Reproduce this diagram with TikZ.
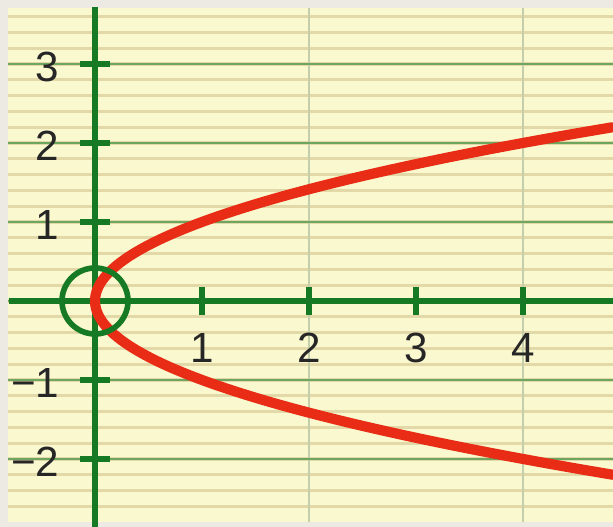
\documentclass[tikz,border=0pt]{standalone}
\usepackage{fontspec}
\setmainfont{Liberation Sans}
\definecolor{paper}{RGB}{250,248,206}
\definecolor{frame}{RGB}{236,234,226}
\definecolor{minorline}{RGB}{226,216,168}
\definecolor{majorline}{RGB}{110,165,95}
\definecolor{vline}{RGB}{196,206,170}
\definecolor{axisgreen}{RGB}{22,122,36}
\definecolor{curvered}{RGB}{232,44,22}
\begin{document}
\begin{tikzpicture}[
    x=1.07cm, y=0.79cm,
    minor/.style={minorline, line width=0.9pt},
    major/.style={majorline, line width=0.8pt},
    axis/.style={axisgreen, line width=1.8pt},
    tick/.style={axisgreen, line width=1.8pt},
    curve/.style={curvered, line width=2.9pt, line cap=round},
    ticklabel/.style={font=\fontsize{12}{14}\selectfont, text=black!85, inner sep=0pt}
]

% Paper
\fill[frame] (-0.8879,-2.8608) rectangle (4.8411,3.8101);
\useasboundingbox (-0.8879,-2.8608) rectangle (4.8411,3.8101);
\fill[paper] (-0.813,-2.797) rectangle (4.8411,3.709);

% Grid
\foreach \k in {-13,...,18} {
  \draw[minor] (-0.813,\k/5) -- (4.8411,\k/5);
}
\foreach \x in {2,4} {
  \draw[vline, line width=0.8pt] (\x,-2.797) -- (\x,3.709);
}
\foreach \y in {-2,...,3} {
  \draw[major] (-0.813,\y) -- (4.8411,\y);
}

% Axes
\coordinate (O) at (0,0);
\coordinate (xstart) at (-0.80,0);
\coordinate (xend) at (4.8411,0);
\coordinate (ystart) at (0,3.72);
\coordinate (yend) at (0,-2.8608);
\draw[axis] (xstart) -- (xend);
\draw[axis] (ystart) -- (yend);

% Ticks and labels
\foreach \x in {1,...,4} {
  \draw[tick] (\x,0) ++(0,-0.14cm) -- ++(0,0.28cm);
  \node[ticklabel] (xl\x) at ([yshift=-0.47cm]\x,0) {\x};
}
\foreach \y/\t in {3/3,2/2,1/1,-1/−1,-2/−2} {
  \draw[tick] (0,\y) ++(-0.15cm,0) -- ++(0.30cm,0);
  \node[ticklabel, anchor=east] (yl\y) at ([xshift=-0.35cm, yshift=-0.03cm]0,\y) {\t};
}

% Parabola x = y^2
\draw[curve] plot[domain=-2.2:2.2, samples=90, smooth] ({\x*\x},\x);

% Vertex marker
\draw[axisgreen, line width=1.6pt] (O) circle[radius=0.33cm];

\end{tikzpicture}
\end{document}
